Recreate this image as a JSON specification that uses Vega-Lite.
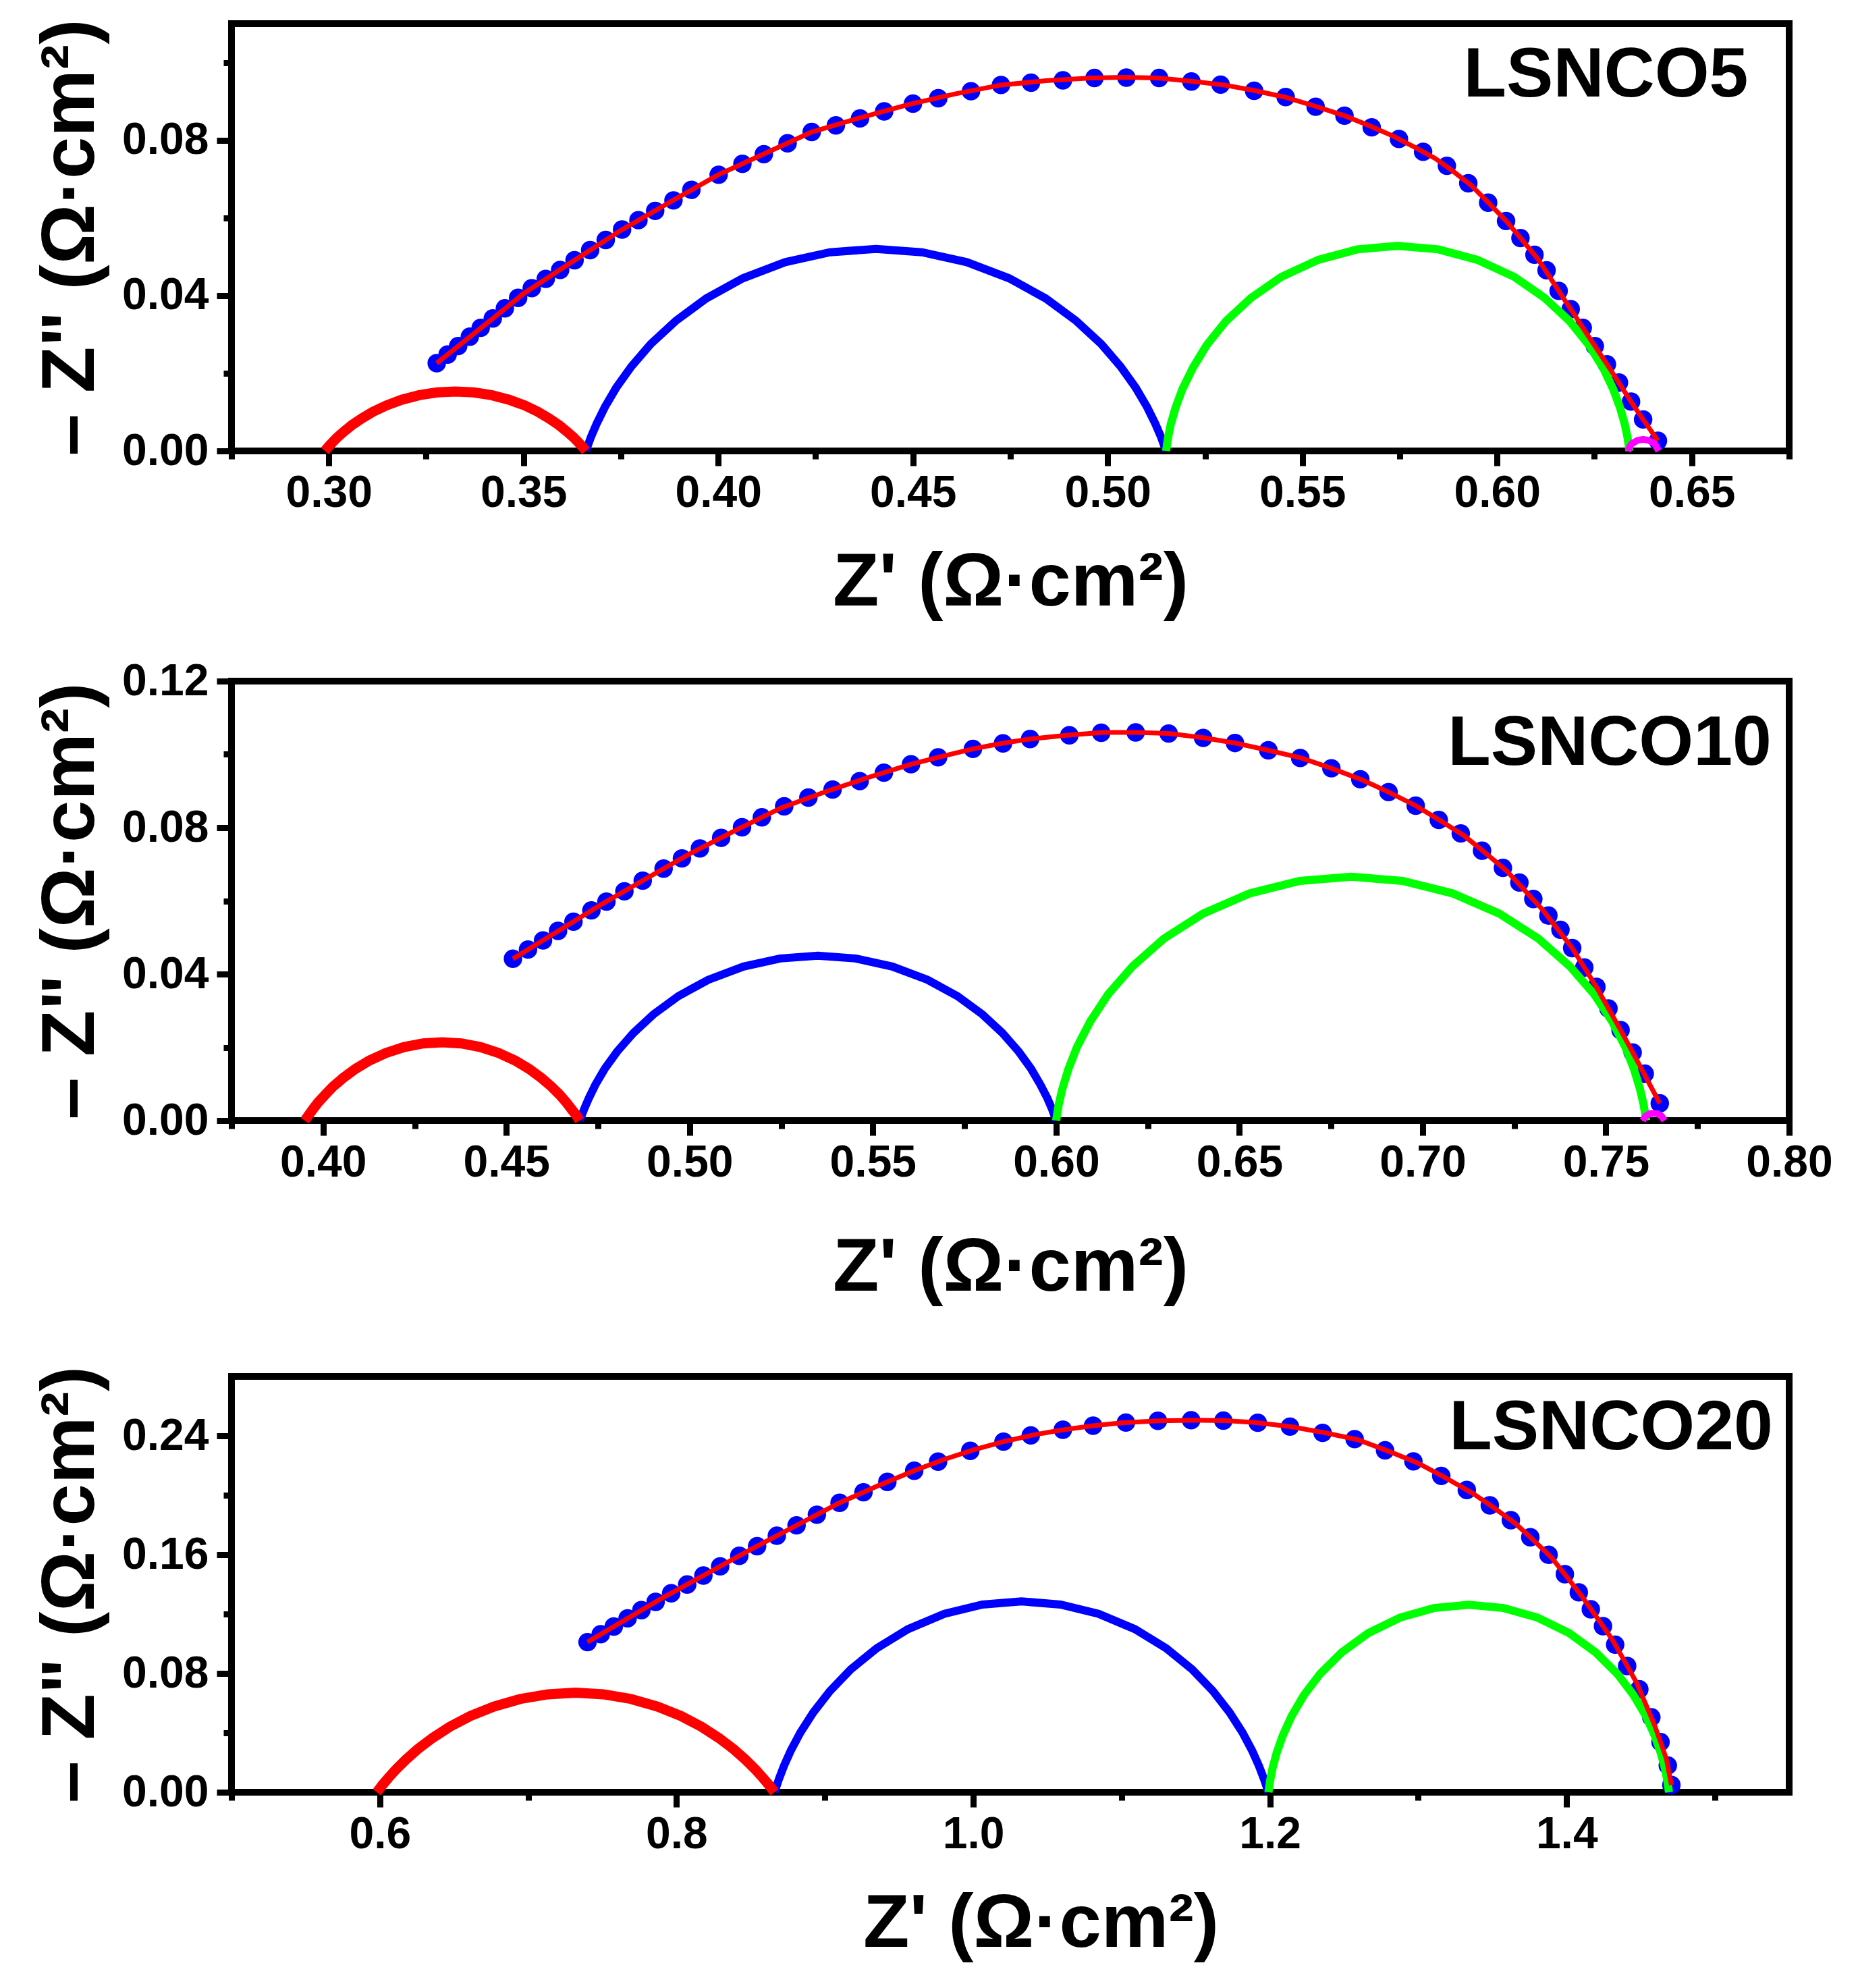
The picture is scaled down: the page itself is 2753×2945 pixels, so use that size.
{
"$schema": "https://vega.github.io/schema/vega-lite/v6.json",
"background": "white",
"padding": {"left": 43, "top": 23, "right": 5, "bottom": 5},
"bounds": "flush",
"spacing": 341,
"config": {
  "font": "Liberation Sans",
  "view": {"stroke": "black", "strokeWidth": 10},
  "axis": {"grid": false, "domain": false, "tickColor": "black", "tickWidth": 9, "tickSize": 22,
    "labelFont": "Liberation Sans", "labelFontSize": 66, "labelFontWeight": "bold", "labelColor": "black",
    "titleFont": "Liberation Sans", "titleFontSize": 112, "titleFontWeight": "bold", "titleColor": "black",
    "labelFlush": false, "labelOverlap": false}
},
"datasets": {
  "p1_meas": [{"x":0.3277,"y":0.0226},{"x":0.3305,"y":0.0248},{"x":0.3332,"y":0.0270},{"x":0.3362,"y":0.0294},{"x":0.3390,"y":0.0317},{"x":0.3421,"y":0.0341},{"x":0.3452,"y":0.0367},{"x":0.3486,"y":0.0394},{"x":0.3521,"y":0.0419},{"x":0.3557,"y":0.0443},{"x":0.3594,"y":0.0466},{"x":0.3631,"y":0.0491},{"x":0.3671,"y":0.0517},{"x":0.3711,"y":0.0543},{"x":0.3753,"y":0.0570},{"x":0.3795,"y":0.0594},{"x":0.3838,"y":0.0618},{"x":0.3885,"y":0.0645},{"x":0.3931,"y":0.0672},{"x":0.4001,"y":0.0711},{"x":0.4062,"y":0.0739},{"x":0.4117,"y":0.0764},{"x":0.4178,"y":0.0792},{"x":0.4240,"y":0.0821},{"x":0.4302,"y":0.0838},{"x":0.4364,"y":0.0856},{"x":0.4426,"y":0.0874},{"x":0.4500,"y":0.0894},{"x":0.4565,"y":0.0908},{"x":0.4649,"y":0.0926},{"x":0.4726,"y":0.0942},{"x":0.4803,"y":0.0948},{"x":0.4885,"y":0.0954},{"x":0.4966,"y":0.0960},{"x":0.5048,"y":0.0961},{"x":0.5132,"y":0.0960},{"x":0.5215,"y":0.0951},{"x":0.5290,"y":0.0943},{"x":0.5376,"y":0.0927},{"x":0.5457,"y":0.0911},{"x":0.5534,"y":0.0886},{"x":0.5608,"y":0.0863},{"x":0.5678,"y":0.0833},{"x":0.5748,"y":0.0803},{"x":0.5810,"y":0.0770},{"x":0.5871,"y":0.0734},{"x":0.5926,"y":0.0689},{"x":0.5977,"y":0.0639},{"x":0.6023,"y":0.0592},{"x":0.6060,"y":0.0548},{"x":0.6096,"y":0.0505},{"x":0.6127,"y":0.0465},{"x":0.6158,"y":0.0412},{"x":0.6189,"y":0.0365},{"x":0.6220,"y":0.0317},{"x":0.6251,"y":0.0270},{"x":0.6282,"y":0.0223},{"x":0.6313,"y":0.0176},{"x":0.6344,"y":0.0127},{"x":0.6375,"y":0.0081},{"x":0.6413,"y":0.0026}],
  "p1_fit": [{"x":0.3277,"y":0.0226},{"x":0.335,"y":0.0284},{"x":0.3425,"y":0.0344},{"x":0.35,"y":0.0405},{"x":0.3625,"y":0.0487},{"x":0.375,"y":0.0568},{"x":0.3875,"y":0.0640},{"x":0.40,"y":0.0711},{"x":0.412,"y":0.0766},{"x":0.424,"y":0.0821},{"x":0.4365,"y":0.0858},{"x":0.449,"y":0.0892},{"x":0.4608,"y":0.0919},{"x":0.4726,"y":0.0942},{"x":0.4842,"y":0.0953},{"x":0.4958,"y":0.0960},{"x":0.5043,"y":0.0962},{"x":0.5128,"y":0.0960},{"x":0.5214,"y":0.0952},{"x":0.5299,"y":0.0942},{"x":0.5376,"y":0.0928},{"x":0.5454,"y":0.0911},{"x":0.5531,"y":0.0888},{"x":0.5608,"y":0.0863},{"x":0.5670,"y":0.0838},{"x":0.5732,"y":0.0811},{"x":0.5786,"y":0.0783},{"x":0.5841,"y":0.0753},{"x":0.5887,"y":0.0720},{"x":0.5933,"y":0.0684},{"x":0.5980,"y":0.0637},{"x":0.6026,"y":0.0589},{"x":0.6065,"y":0.0542},{"x":0.6104,"y":0.0495},{"x":0.6135,"y":0.0448},{"x":0.6166,"y":0.0400},{"x":0.6197,"y":0.0353},{"x":0.6228,"y":0.0305},{"x":0.6259,"y":0.0258},{"x":0.6290,"y":0.0211},{"x":0.6320,"y":0.0164},{"x":0.6351,"y":0.0116},{"x":0.6382,"y":0.0071},{"x":0.6413,"y":0.0026}],
  "p1_r": [{"x":0.2990,"y":0},{"x":0.2999,"y":0.00111},{"x":0.3009,"y":0.00220},{"x":0.3022,"y":0.00351},{"x":0.3039,"y":0.00500},{"x":0.3059,"y":0.00663},{"x":0.3084,"y":0.00834},{"x":0.3113,"y":0.01007},{"x":0.3148,"y":0.01172},{"x":0.3187,"y":0.01318},{"x":0.3232,"y":0.01435},{"x":0.3278,"y":0.01506},{"x":0.3325,"y":0.0153},{"x":0.3372,"y":0.01506},{"x":0.3418,"y":0.01435},{"x":0.3463,"y":0.01318},{"x":0.3503,"y":0.01172},{"x":0.3537,"y":0.01007},{"x":0.3566,"y":0.00834},{"x":0.3591,"y":0.00663},{"x":0.3611,"y":0.00500},{"x":0.3628,"y":0.00351},{"x":0.3641,"y":0.00220},{"x":0.3651,"y":0.00111},{"x":0.3660,"y":0}],
  "p1_b": [{"x":0.3660,"y":0},{"x":0.3673,"y":0.00357},{"x":0.3688,"y":0.00707},{"x":0.3709,"y":0.01133},{"x":0.3738,"y":0.01627},{"x":0.3777,"y":0.02175},{"x":0.3827,"y":0.02757},{"x":0.3891,"y":0.03349},{"x":0.3969,"y":0.03925},{"x":0.4063,"y":0.04443},{"x":0.4172,"y":0.04860},{"x":0.4287,"y":0.05115},{"x":0.4405,"y":0.052},{"x":0.4523,"y":0.05115},{"x":0.4638,"y":0.04860},{"x":0.4747,"y":0.04443},{"x":0.4841,"y":0.03925},{"x":0.4919,"y":0.03349},{"x":0.4983,"y":0.02757},{"x":0.5033,"y":0.02175},{"x":0.5072,"y":0.01627},{"x":0.5101,"y":0.01133},{"x":0.5122,"y":0.00707},{"x":0.5137,"y":0.00357},{"x":0.5150,"y":0}],
  "p1_g": [{"x":0.5150,"y":0},{"x":0.5155,"y":0.00344},{"x":0.5162,"y":0.00685},{"x":0.5174,"y":0.01104},{"x":0.5192,"y":0.01594},{"x":0.5219,"y":0.02144},{"x":0.5255,"y":0.02735},{"x":0.5304,"y":0.03344},{"x":0.5368,"y":0.03939},{"x":0.5446,"y":0.04481},{"x":0.5541,"y":0.04920},{"x":0.5641,"y":0.05189},{"x":0.5745,"y":0.0528},{"x":0.5849,"y":0.05189},{"x":0.5949,"y":0.04920},{"x":0.6044,"y":0.04481},{"x":0.6122,"y":0.03939},{"x":0.6186,"y":0.03344},{"x":0.6235,"y":0.02735},{"x":0.6272,"y":0.02144},{"x":0.6298,"y":0.01594},{"x":0.6316,"y":0.01104},{"x":0.6328,"y":0.00685},{"x":0.6335,"y":0.00344},{"x":0.6340,"y":0}],
  "p1_m": [{"x":0.6335,"y":0},{"x":0.6345,"y":0.0018},{"x":0.6360,"y":0.0027},{"x":0.6375,"y":0.0030},{"x":0.6390,"y":0.0027},{"x":0.6405,"y":0.0018},{"x":0.6415,"y":0}],
  "p1_lab": [{"x":0.6645,"y":0.0912,"t":"LSNCO5"}],
  "p2_meas": [{"x":0.4518,"y":0.0442},{"x":0.4559,"y":0.0467},{"x":0.4600,"y":0.0492},{"x":0.4641,"y":0.0518},{"x":0.4683,"y":0.0543},{"x":0.4732,"y":0.0574},{"x":0.4773,"y":0.0598},{"x":0.4822,"y":0.0626},{"x":0.4872,"y":0.0655},{"x":0.4929,"y":0.0688},{"x":0.4979,"y":0.0716},{"x":0.5028,"y":0.0743},{"x":0.5086,"y":0.0772},{"x":0.5143,"y":0.0801},{"x":0.5197,"y":0.0828},{"x":0.5258,"y":0.0858},{"x":0.5324,"y":0.0882},{"x":0.5390,"y":0.0904},{"x":0.5464,"y":0.0927},{"x":0.5530,"y":0.0950},{"x":0.5604,"y":0.0973},{"x":0.5678,"y":0.0992},{"x":0.5773,"y":0.1015},{"x":0.5855,"y":0.1030},{"x":0.5929,"y":0.1042},{"x":0.6036,"y":0.1052},{"x":0.6123,"y":0.1059},{"x":0.6217,"y":0.1060},{"x":0.6307,"y":0.1057},{"x":0.6401,"y":0.1045},{"x":0.6488,"y":0.1031},{"x":0.6579,"y":0.1011},{"x":0.6666,"y":0.0990},{"x":0.6751,"y":0.0962},{"x":0.6830,"y":0.0932},{"x":0.6907,"y":0.0897},{"x":0.6981,"y":0.0860},{"x":0.7044,"y":0.0821},{"x":0.7104,"y":0.0784},{"x":0.7162,"y":0.0737},{"x":0.7219,"y":0.0690},{"x":0.7264,"y":0.0650},{"x":0.7302,"y":0.0605},{"x":0.7343,"y":0.0560},{"x":0.7376,"y":0.0521},{"x":0.7408,"y":0.0471},{"x":0.7441,"y":0.0418},{"x":0.7474,"y":0.0365},{"x":0.7507,"y":0.0306},{"x":0.7540,"y":0.0247},{"x":0.7573,"y":0.0186},{"x":0.7606,"y":0.0128},{"x":0.7647,"y":0.0047}],
  "p2_fit": [{"x":0.4518,"y":0.0442},{"x":0.4637,"y":0.0515},{"x":0.4757,"y":0.0589},{"x":0.4880,"y":0.0660},{"x":0.5003,"y":0.0730},{"x":0.5126,"y":0.0793},{"x":0.5250,"y":0.0854},{"x":0.5374,"y":0.0899},{"x":0.5497,"y":0.0940},{"x":0.5601,"y":0.0972},{"x":0.5691,"y":0.0995},{"x":0.5773,"y":0.1015},{"x":0.5851,"y":0.1030},{"x":0.5929,"y":0.1042},{"x":0.6028,"y":0.1052},{"x":0.6127,"y":0.1060},{"x":0.6217,"y":0.1060},{"x":0.6307,"y":0.1057},{"x":0.6398,"y":0.1046},{"x":0.6488,"y":0.1031},{"x":0.6579,"y":0.1011},{"x":0.6669,"y":0.0990},{"x":0.6751,"y":0.0962},{"x":0.6833,"y":0.0931},{"x":0.6907,"y":0.0897},{"x":0.6981,"y":0.0860},{"x":0.7047,"y":0.0820},{"x":0.7113,"y":0.0778},{"x":0.7171,"y":0.0731},{"x":0.7228,"y":0.0683},{"x":0.7277,"y":0.0630},{"x":0.7326,"y":0.0577},{"x":0.7367,"y":0.0524},{"x":0.7408,"y":0.0471},{"x":0.7441,"y":0.0418},{"x":0.7474,"y":0.0365},{"x":0.7507,"y":0.0306},{"x":0.7540,"y":0.0247},{"x":0.7569,"y":0.0194},{"x":0.7597,"y":0.0141},{"x":0.7622,"y":0.0094},{"x":0.7647,"y":0.0047}],
  "p2_r": [{"x":0.3950,"y":0},{"x":0.3961,"y":0.00155},{"x":0.3972,"y":0.00307},{"x":0.3986,"y":0.00491},{"x":0.4005,"y":0.00699},{"x":0.4027,"y":0.00928},{"x":0.4055,"y":0.01167},{"x":0.4088,"y":0.01409},{"x":0.4126,"y":0.01639},{"x":0.4171,"y":0.01844},{"x":0.4221,"y":0.02008},{"x":0.4273,"y":0.02107},{"x":0.4325,"y":0.0214},{"x":0.4377,"y":0.02107},{"x":0.4429,"y":0.02008},{"x":0.4479,"y":0.01844},{"x":0.4524,"y":0.01639},{"x":0.4562,"y":0.01409},{"x":0.4595,"y":0.01167},{"x":0.4623,"y":0.00928},{"x":0.4646,"y":0.00699},{"x":0.4664,"y":0.00491},{"x":0.4678,"y":0.00307},{"x":0.4690,"y":0.00155},{"x":0.4700,"y":0}],
  "p2_b": [{"x":0.4700,"y":0},{"x":0.4712,"y":0.00309},{"x":0.4725,"y":0.00612},{"x":0.4743,"y":0.00981},{"x":0.4768,"y":0.01408},{"x":0.4802,"y":0.01882},{"x":0.4846,"y":0.02386},{"x":0.4901,"y":0.02898},{"x":0.4969,"y":0.03397},{"x":0.5051,"y":0.03845},{"x":0.5147,"y":0.04206},{"x":0.5247,"y":0.04426},{"x":0.5350,"y":0.045},{"x":0.5453,"y":0.04426},{"x":0.5553,"y":0.04206},{"x":0.5649,"y":0.03845},{"x":0.5731,"y":0.03397},{"x":0.5799,"y":0.02898},{"x":0.5854,"y":0.02386},{"x":0.5898,"y":0.01882},{"x":0.5932,"y":0.01408},{"x":0.5957,"y":0.00981},{"x":0.5976,"y":0.00612},{"x":0.5989,"y":0.00309},{"x":0.6000,"y":0}],
  "p2_g": [{"x":0.6000,"y":0},{"x":0.6007,"y":0.00434},{"x":0.6017,"y":0.00864},{"x":0.6033,"y":0.01393},{"x":0.6057,"y":0.02011},{"x":0.6093,"y":0.02704},{"x":0.6142,"y":0.03449},{"x":0.6209,"y":0.04218},{"x":0.6294,"y":0.04968},{"x":0.6401,"y":0.05652},{"x":0.6529,"y":0.06206},{"x":0.6665,"y":0.06545},{"x":0.6805,"y":0.0666},{"x":0.6945,"y":0.06545},{"x":0.7081,"y":0.06206},{"x":0.7209,"y":0.05652},{"x":0.7316,"y":0.04968},{"x":0.7401,"y":0.04218},{"x":0.7468,"y":0.03449},{"x":0.7517,"y":0.02704},{"x":0.7553,"y":0.02011},{"x":0.7577,"y":0.01393},{"x":0.7593,"y":0.00864},{"x":0.7603,"y":0.00434},{"x":0.7610,"y":0}],
  "p2_m": [{"x":0.7600,"y":0},{"x":0.7608,"y":0.0012},{"x":0.7620,"y":0.0019},{"x":0.7630,"y":0.0020},{"x":0.7640,"y":0.0019},{"x":0.7652,"y":0.0012},{"x":0.7660,"y":0}],
  "p2_lab": [{"x":0.7952,"y":0.0972,"t":"LSNCO10"}],
  "p3_meas": [{"x":0.7400,"y":0.1011},{"x":0.7489,"y":0.1064},{"x":0.7577,"y":0.1116},{"x":0.7670,"y":0.1171},{"x":0.7763,"y":0.1226},{"x":0.7859,"y":0.1282},{"x":0.7964,"y":0.1340},{"x":0.8072,"y":0.1399},{"x":0.8181,"y":0.1459},{"x":0.8294,"y":0.1521},{"x":0.8423,"y":0.1592},{"x":0.8543,"y":0.1657},{"x":0.8676,"y":0.1727},{"x":0.8809,"y":0.1797},{"x":0.8946,"y":0.1869},{"x":0.9099,"y":0.1949},{"x":0.9260,"y":0.2020},{"x":0.9421,"y":0.2090},{"x":0.9602,"y":0.2165},{"x":0.9763,"y":0.2226},{"x":0.9980,"y":0.2299},{"x":1.0204,"y":0.2361},{"x":1.0388,"y":0.2403},{"x":1.0604,"y":0.2441},{"x":1.0808,"y":0.2468},{"x":1.1029,"y":0.2489},{"x":1.1245,"y":0.2501},{"x":1.1469,"y":0.2505},{"x":1.1686,"y":0.2502},{"x":1.1918,"y":0.2488},{"x":1.2135,"y":0.2462},{"x":1.2355,"y":0.2420},{"x":1.2571,"y":0.2378},{"x":1.2776,"y":0.2302},{"x":1.2967,"y":0.2228},{"x":1.3155,"y":0.2130},{"x":1.3327,"y":0.2035},{"x":1.3482,"y":0.1932},{"x":1.3624,"y":0.1832},{"x":1.3755,"y":0.1717},{"x":1.3878,"y":0.1599},{"x":1.3988,"y":0.1468},{"x":1.4082,"y":0.1346},{"x":1.4163,"y":0.1232},{"x":1.4245,"y":0.1118},{"x":1.4327,"y":0.0994},{"x":1.4408,"y":0.0850},{"x":1.4490,"y":0.0693},{"x":1.4571,"y":0.0505},{"x":1.4633,"y":0.0338},{"x":1.4682,"y":0.0180},{"x":1.4706,"y":0.0049}],
  "p3_fit": [{"x":0.740,"y":0.1011},{"x":0.7645,"y":0.1156},{"x":0.789,"y":0.130},{"x":0.8193,"y":0.1466},{"x":0.8495,"y":0.1632},{"x":0.8797,"y":0.1791},{"x":0.9099,"y":0.1949},{"x":0.935,"y":0.2060},{"x":0.96,"y":0.2165},{"x":0.98,"y":0.2240},{"x":1.0,"y":0.2305},{"x":1.02,"y":0.2360},{"x":1.04,"y":0.2405},{"x":1.06,"y":0.2440},{"x":1.08,"y":0.2467},{"x":1.10,"y":0.2487},{"x":1.125,"y":0.2501},{"x":1.147,"y":0.2505},{"x":1.17,"y":0.2502},{"x":1.19,"y":0.2490},{"x":1.2143,"y":0.2461},{"x":1.2368,"y":0.2421},{"x":1.2592,"y":0.2374},{"x":1.28,"y":0.2296},{"x":1.30,"y":0.2215},{"x":1.3184,"y":0.2117},{"x":1.3367,"y":0.2013},{"x":1.351,"y":0.1915},{"x":1.3653,"y":0.1811},{"x":1.3776,"y":0.1698},{"x":1.3898,"y":0.1580},{"x":1.4,"y":0.1452},{"x":1.4102,"y":0.1320},{"x":1.4204,"y":0.1176},{"x":1.4306,"y":0.1031},{"x":1.4388,"y":0.0887},{"x":1.4469,"y":0.0742},{"x":1.4531,"y":0.0598},{"x":1.4592,"y":0.0453},{"x":1.4633,"y":0.0338},{"x":1.4673,"y":0.0222},{"x":1.4706,"y":0.0049}],
  "p3_r": [{"x":0.5980,"y":0},{"x":0.6017,"y":0.00486},{"x":0.6057,"y":0.00962},{"x":0.6109,"y":0.01536},{"x":0.6175,"y":0.02190},{"x":0.6256,"y":0.02904},{"x":0.6355,"y":0.03654},{"x":0.6472,"y":0.04410},{"x":0.6610,"y":0.05132},{"x":0.6769,"y":0.05773},{"x":0.6949,"y":0.06285},{"x":0.7133,"y":0.06596},{"x":0.7320,"y":0.067},{"x":0.7507,"y":0.06596},{"x":0.7691,"y":0.06285},{"x":0.7871,"y":0.05773},{"x":0.8030,"y":0.05132},{"x":0.8168,"y":0.04410},{"x":0.8285,"y":0.03654},{"x":0.8384,"y":0.02904},{"x":0.8465,"y":0.02190},{"x":0.8531,"y":0.01536},{"x":0.8583,"y":0.00962},{"x":0.8623,"y":0.00486},{"x":0.8660,"y":0}],
  "p3_b": [{"x":0.8660,"y":0},{"x":0.8690,"y":0.00882},{"x":0.8723,"y":0.01748},{"x":0.8770,"y":0.02800},{"x":0.8835,"y":0.04021},{"x":0.8922,"y":0.05374},{"x":0.9034,"y":0.06813},{"x":0.9175,"y":0.08277},{"x":0.9350,"y":0.09699},{"x":0.9560,"y":0.10979},{"x":0.9805,"y":0.12011},{"x":1.0062,"y":0.12639},{"x":1.0325,"y":0.1285},{"x":1.0588,"y":0.12639},{"x":1.0845,"y":0.12011},{"x":1.1090,"y":0.10979},{"x":1.1300,"y":0.09699},{"x":1.1475,"y":0.08277},{"x":1.1616,"y":0.06813},{"x":1.1728,"y":0.05374},{"x":1.1815,"y":0.04021},{"x":1.1880,"y":0.02800},{"x":1.1927,"y":0.01748},{"x":1.1960,"y":0.00882},{"x":1.1990,"y":0}],
  "p3_g": [{"x":1.1990,"y":0},{"x":1.2002,"y":0.00822},{"x":1.2018,"y":0.01637},{"x":1.2045,"y":0.02639},{"x":1.2086,"y":0.03810},{"x":1.2146,"y":0.05124},{"x":1.2229,"y":0.06536},{"x":1.2340,"y":0.07993},{"x":1.2484,"y":0.09415},{"x":1.2662,"y":0.10711},{"x":1.2877,"y":0.11761},{"x":1.3105,"y":0.12403},{"x":1.3340,"y":0.1262},{"x":1.3575,"y":0.12403},{"x":1.3804,"y":0.11761},{"x":1.4018,"y":0.10711},{"x":1.4196,"y":0.09415},{"x":1.4340,"y":0.07993},{"x":1.4451,"y":0.06536},{"x":1.4535,"y":0.05124},{"x":1.4594,"y":0.03810},{"x":1.4635,"y":0.02639},{"x":1.4662,"y":0.01637},{"x":1.4678,"y":0.00822},{"x":1.4690,"y":0}],
  "p3_lab": [{"x":1.539,"y":0.2309,"t":"LSNCO20"}]
},
"vconcat": [
 {
  "width": 2308, "height": 633,
  "resolve": {"axis": {"x": "independent", "y": "independent"}},
  "layer": [
   {"data": {"name": "p1_meas"}, "mark": {"type": "point", "filled": true, "shape": "circle", "size": 750, "color": "#0000FF", "opacity": 1},
    "encoding": {
      "x": {"field": "x", "type": "quantitative", "scale": {"domain": [0.275, 0.675], "nice": false, "zero": false},
            "axis": {"orient": "bottom", "values": [0.3,0.35,0.4,0.45,0.5,0.55,0.6,0.65], "format": ".2f", "title": "Z' (Ω·cm²)", "labelPadding": 8, "titlePadding": 45}},
      "y": {"field": "y", "type": "quantitative", "scale": {"domain": [0, 0.11], "nice": false, "zero": false},
            "axis": {"orient": "left", "values": [0,0.04,0.08], "format": ".2f", "title": "– Z\" (Ω·cm²)", "labelPadding": 12, "titlePadding": 18}}}},
   {"data": {"name": "p1_b"}, "mark": {"type": "line", "color": "#0000FF", "strokeWidth": 12},
    "encoding": {
      "x": {"field": "x", "type": "quantitative", "axis": {"orient": "bottom", "values": [0.275,0.325,0.375,0.425,0.475,0.525,0.575,0.625,0.675], "labels": false, "title": null, "tickSize": 12, "tickWidth": 9}},
      "y": {"field": "y", "type": "quantitative", "axis": {"orient": "left", "values": [0.02,0.06,0.1], "labels": false, "title": null, "tickSize": 12, "tickWidth": 9}}}},
   {"data": {"name": "p1_g"}, "mark": {"type": "line", "color": "#00FF00", "strokeWidth": 12},
    "encoding": {"x": {"field": "x", "type": "quantitative", "axis": null}, "y": {"field": "y", "type": "quantitative", "axis": null}}},
   {"data": {"name": "p1_r"}, "mark": {"type": "line", "color": "#FF0000", "strokeWidth": 15},
    "encoding": {"x": {"field": "x", "type": "quantitative", "axis": null}, "y": {"field": "y", "type": "quantitative", "axis": null}}},
   {"data": {"name": "p1_fit"}, "mark": {"type": "line", "color": "#FF0000", "strokeWidth": 7},
    "encoding": {"x": {"field": "x", "type": "quantitative", "axis": null}, "y": {"field": "y", "type": "quantitative", "axis": null}}},
   {"data": {"name": "p1_m"}, "mark": {"type": "line", "color": "#FF00FF", "strokeWidth": 10},
    "encoding": {"x": {"field": "x", "type": "quantitative", "axis": null}, "y": {"field": "y", "type": "quantitative", "axis": null}}},
   {"data": {"name": "p1_lab"}, "mark": {"type": "text", "align": "right", "baseline": "alphabetic", "fontSize": 104, "fontWeight": "bold", "font": "Liberation Sans", "color": "black"},
    "encoding": {"x": {"field": "x", "type": "quantitative", "axis": null}, "y": {"field": "y", "type": "quantitative", "axis": null}, "text": {"field": "t"}}}
  ]
 },
 {
  "width": 2308, "height": 651,
  "resolve": {"axis": {"x": "independent", "y": "independent"}},
  "layer": [
   {"data": {"name": "p2_meas"}, "mark": {"type": "point", "filled": true, "shape": "circle", "size": 750, "color": "#0000FF", "opacity": 1},
    "encoding": {
      "x": {"field": "x", "type": "quantitative", "scale": {"domain": [0.375, 0.80], "nice": false, "zero": false},
            "axis": {"orient": "bottom", "values": [0.4,0.45,0.5,0.55,0.6,0.65,0.7,0.75,0.8], "format": ".2f", "title": "Z' (Ω·cm²)", "labelPadding": 8, "titlePadding": 68}},
      "y": {"field": "y", "type": "quantitative", "scale": {"domain": [0, 0.12], "nice": false, "zero": false},
            "axis": {"orient": "left", "values": [0,0.04,0.08,0.12], "format": ".2f", "title": "– Z\" (Ω·cm²)", "labelPadding": 12, "titlePadding": 18}}}},
   {"data": {"name": "p2_b"}, "mark": {"type": "line", "color": "#0000FF", "strokeWidth": 12},
    "encoding": {
      "x": {"field": "x", "type": "quantitative", "axis": {"orient": "bottom", "values": [0.375,0.425,0.475,0.525,0.575,0.625,0.675,0.725,0.775], "labels": false, "title": null, "tickSize": 12, "tickWidth": 9}},
      "y": {"field": "y", "type": "quantitative", "axis": {"orient": "left", "values": [0.02,0.06,0.1], "labels": false, "title": null, "tickSize": 12, "tickWidth": 9}}}},
   {"data": {"name": "p2_g"}, "mark": {"type": "line", "color": "#00FF00", "strokeWidth": 12},
    "encoding": {"x": {"field": "x", "type": "quantitative", "axis": null}, "y": {"field": "y", "type": "quantitative", "axis": null}}},
   {"data": {"name": "p2_r"}, "mark": {"type": "line", "color": "#FF0000", "strokeWidth": 15},
    "encoding": {"x": {"field": "x", "type": "quantitative", "axis": null}, "y": {"field": "y", "type": "quantitative", "axis": null}}},
   {"data": {"name": "p2_fit"}, "mark": {"type": "line", "color": "#FF0000", "strokeWidth": 7},
    "encoding": {"x": {"field": "x", "type": "quantitative", "axis": null}, "y": {"field": "y", "type": "quantitative", "axis": null}}},
   {"data": {"name": "p2_m"}, "mark": {"type": "line", "color": "#FF00FF", "strokeWidth": 10},
    "encoding": {"x": {"field": "x", "type": "quantitative", "axis": null}, "y": {"field": "y", "type": "quantitative", "axis": null}}},
   {"data": {"name": "p2_lab"}, "mark": {"type": "text", "align": "right", "baseline": "alphabetic", "fontSize": 104, "fontWeight": "bold", "font": "Liberation Sans", "color": "black"},
    "encoding": {"x": {"field": "x", "type": "quantitative", "axis": null}, "y": {"field": "y", "type": "quantitative", "axis": null}, "text": {"field": "t"}}}
  ]
 },
 {
  "width": 2308, "height": 654,
  "view": {"stroke": null},
  "resolve": {"axis": {"x": "independent", "y": "independent"}},
  "layer": [
   {"data": {"values": [{}]}, "mark": {"type": "rect", "filled": false, "fillOpacity": 0, "stroke": "black", "strokeWidth": 10},
    "encoding": {"x": {"datum": 0.5, "type": "quantitative", "axis": null}, "x2": {"datum": 1.55},
                 "y": {"datum": 0, "type": "quantitative", "axis": null}, "y2": {"datum": 0.28}}},
   {"data": {"name": "p3_meas"}, "mark": {"type": "point", "filled": true, "shape": "circle", "size": 750, "color": "#0000FF", "opacity": 1},
    "encoding": {
      "x": {"field": "x", "type": "quantitative", "scale": {"domain": [0.5, 1.55], "nice": false, "zero": false},
            "axis": {"orient": "bottom", "values": [0.6,0.8,1.0,1.2,1.4], "format": ".1f", "title": "Z' (Ω·cm²)", "labelPadding": 8, "titlePadding": 45, "titleX": 1199}},
      "y": {"field": "y", "type": "quantitative", "scale": {"domain": [0, 0.297273], "nice": false, "zero": false},
            "axis": {"orient": "left", "values": [0,0.08,0.16,0.24], "format": ".2f", "title": "– Z\" (Ω·cm²)", "labelPadding": 12, "titlePadding": 18, "titleY": 346}}}},
   {"data": {"name": "p3_b"}, "mark": {"type": "line", "color": "#0000FF", "strokeWidth": 12},
    "encoding": {
      "x": {"field": "x", "type": "quantitative", "axis": {"orient": "bottom", "values": [0.5,0.7,0.9,1.1,1.3,1.5], "labels": false, "title": null, "tickSize": 12, "tickWidth": 9}},
      "y": {"field": "y", "type": "quantitative", "axis": {"orient": "left", "values": [0.04,0.12,0.2], "labels": false, "title": null, "tickSize": 12, "tickWidth": 9}}}},
   {"data": {"name": "p3_g"}, "mark": {"type": "line", "color": "#00FF00", "strokeWidth": 12},
    "encoding": {"x": {"field": "x", "type": "quantitative", "axis": null}, "y": {"field": "y", "type": "quantitative", "axis": null}}},
   {"data": {"name": "p3_r"}, "mark": {"type": "line", "color": "#FF0000", "strokeWidth": 15},
    "encoding": {"x": {"field": "x", "type": "quantitative", "axis": null}, "y": {"field": "y", "type": "quantitative", "axis": null}}},
   {"data": {"name": "p3_fit"}, "mark": {"type": "line", "color": "#FF0000", "strokeWidth": 7},
    "encoding": {"x": {"field": "x", "type": "quantitative", "axis": null}, "y": {"field": "y", "type": "quantitative", "axis": null}}},
   {"data": {"name": "p3_lab"}, "mark": {"type": "text", "align": "right", "baseline": "alphabetic", "fontSize": 104, "fontWeight": "bold", "font": "Liberation Sans", "color": "black"},
    "encoding": {"x": {"field": "x", "type": "quantitative", "axis": null}, "y": {"field": "y", "type": "quantitative", "axis": null}, "text": {"field": "t"}}}
  ]
 }
]
}
